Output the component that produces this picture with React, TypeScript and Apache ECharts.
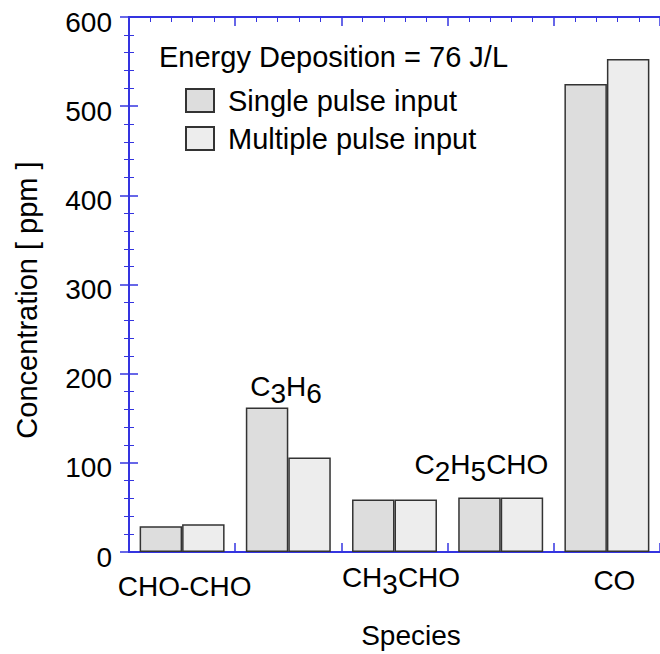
import React, { useEffect, useRef } from 'react';
import * as echarts from 'echarts';

const categories = ['CHO-CHO', 'C3H6', 'CH3CHO', 'C2H5CHO', 'CO'];
const singlePulse = [29, 162, 59, 61, 525];
const multiplePulse = [31, 106, 59, 61, 553];
const seriesNames = ['Single pulse input', 'Multiple pulse input'];
const axisLabelled = ['CHO-CHO', 'CH3CHO', 'CO'];
const annotated = ['C3H6', 'C2H5CHO'];
const yMin = 0;
const yMax = 600;
const yStep = 100;
const titleText = 'Energy Deposition = 76 J/L';
const xTitle = 'Species';
const yTitle = 'Concentration [ ppm ]';

const FONT = '"Liberation Sans", Arial, Helvetica, sans-serif';
const BLUE = '#3434e0';
const FS = 28;
const FS2 = 29;

// chemical formula -> rich text with subscripted digits
function chem(name: string, first = 'n'): string {
  const parts = name.split(/(\d+)/).filter((p) => p.length > 0);
  return parts
    .map((p, i) => {
      if (/^\d+$/.test(p)) return `{s|${p}}`;
      return `{${i === 0 ? first : 'n'}|${p}}`;
    })
    .join('');
}

const baseTok = { fontSize: FS, lineHeight: FS, color: '#000', fontFamily: FONT };
const richBase: any = {
  n: { ...baseTok },
  s: { ...baseTok, padding: [14, 0, 0, 0] },
};

const axisLabelStyle: Record<string, string> = {
  'CHO-CHO': 'p1',
  CH3CHO: 'p2',
  CO: 'p3',
};

const annotOffset: Record<string, number[]> = {
  C3H6: [19, -7.5],
  C2H5CHO: [2, -19.5],
};

export default function App() {
  const ref = useRef<HTMLDivElement>(null);
  useEffect(() => {
    if (!ref.current) return;
    const chart = echarts.init(ref.current, undefined, { renderer: 'svg' });

    const axisLine = { show: true, lineStyle: { color: BLUE, width: 2 } };
    const axisTick = { show: true, inside: true, length: 9, lineStyle: { color: BLUE, width: 1.5 } };
    const minorTick = { show: true, splitNumber: 5, length: 5, lineStyle: { color: BLUE, width: 1 } };

    const singleData = singlePulse.map((v, i) => {
      const c = categories[i];
      if (annotated.indexOf(c) >= 0) {
        return {
          value: v,
          label: {
            show: true,
            position: 'top',
            distance: 0,
            offset: annotOffset[c],
            formatter: chem(c),
            rich: richBase,
          },
        };
      }
      return v;
    });

    const option: any = {
      animation: false,
      backgroundColor: '#fff',
      textStyle: { fontFamily: FONT },
      title: {
        text: titleText,
        left: 159,
        top: 42,
        padding: 0,
        textStyle: { fontSize: FS2, fontWeight: 'normal', color: '#000', fontFamily: FONT },
      },
      legend: {
        orient: 'vertical',
        left: 185,
        top: 86,
        padding: 0,
        itemWidth: 28,
        itemHeight: 23,
        itemGap: 9,
        icon: 'rect',
        data: seriesNames,
        textStyle: { fontSize: FS2, color: '#000', fontFamily: FONT, padding: [0, 0, 0, 9] },
      },
      grid: { left: 129, top: 17, width: 535, height: 535, containLabel: false },
      xAxis: [
        {
          type: 'category',
          data: categories,
          position: 'bottom',
          axisLine: { show: false },
          axisTick: { show: false },
          splitLine: { show: false },
          axisLabel: {
            interval: 0,
            margin: 11,
            formatter: (val: string) => {
              if (axisLabelled.indexOf(val) < 0) return '';
              const st = axisLabelStyle[val];
              if (st === 'p2') return chem(val, 'p2');
              return `{${st}|${val}}`;
            },
            rich: {
              ...richBase,
              p1: { ...baseTok, padding: [19, 0, 0, 5] },
              p2: { ...baseTok, padding: [0, 0, 0, 13] },
              p3: { ...baseTok, padding: [7, 0, 0, 15] },
            },
          },
        },
        {
          type: 'value',
          position: 'bottom',
          min: 0,
          max: categories.length,
          interval: 1,
          axisLine,
          axisTick,
          minorTick,
          axisLabel: { show: false },
          splitLine: { show: false },
          name: xTitle,
          nameLocation: 'middle',
          nameGap: 69,
          nameTextStyle: { fontSize: FS, color: '#000', fontFamily: FONT, padding: [0, 0, 0, 33] },
        },
        {
          type: 'value',
          position: 'top',
          min: 0,
          max: categories.length,
          interval: 1,
          axisLine,
          axisTick,
          minorTick,
          axisLabel: { show: false },
          splitLine: { show: false },
        },
      ],
      yAxis: [
        {
          type: 'value',
          position: 'left',
          min: yMin,
          max: yMax,
          interval: yStep,
          axisLine,
          axisTick,
          minorTick,
          splitLine: { show: false },
          axisLabel: {
            margin: 17,
            formatter: (v: number) => `{v|${v}}`,
            rich: { v: { fontSize: FS, color: '#000', fontFamily: FONT, padding: [10, 0, 0, 0] } },
          },
          name: yTitle,
          nameLocation: 'middle',
          nameGap: 88,
          nameTextStyle: { fontSize: FS2, color: '#000', fontFamily: FONT, padding: [0, 31, 0, 0] },
        },
        {
          type: 'value',
          position: 'right',
          min: yMin,
          max: yMax,
          interval: yStep,
          axisLine,
          axisTick,
          minorTick,
          splitLine: { show: false },
          axisLabel: { show: false },
        },
      ],
      series: [
        {
          name: seriesNames[0],
          type: 'bar',
          xAxisIndex: 0,
          yAxisIndex: 0,
          barGap: '0%',
          barCategoryGap: '20%',
          data: singleData,
          itemStyle: { color: '#dddddd', borderColor: '#333', borderWidth: 1.5 },
        },
        {
          name: seriesNames[1],
          type: 'bar',
          xAxisIndex: 0,
          yAxisIndex: 0,
          barGap: '0%',
          barCategoryGap: '20%',
          data: multiplePulse,
          itemStyle: { color: '#ededed', borderColor: '#333', borderWidth: 1.5 },
        },
      ],
    };
    chart.setOption(option);
    return () => chart.dispose();
  }, []);

  return (
    <div
      ref={ref}
      style={{ position: 'fixed', left: 0, top: 0, width: 660, height: 654, background: '#fff' }}
    />
  );
}
